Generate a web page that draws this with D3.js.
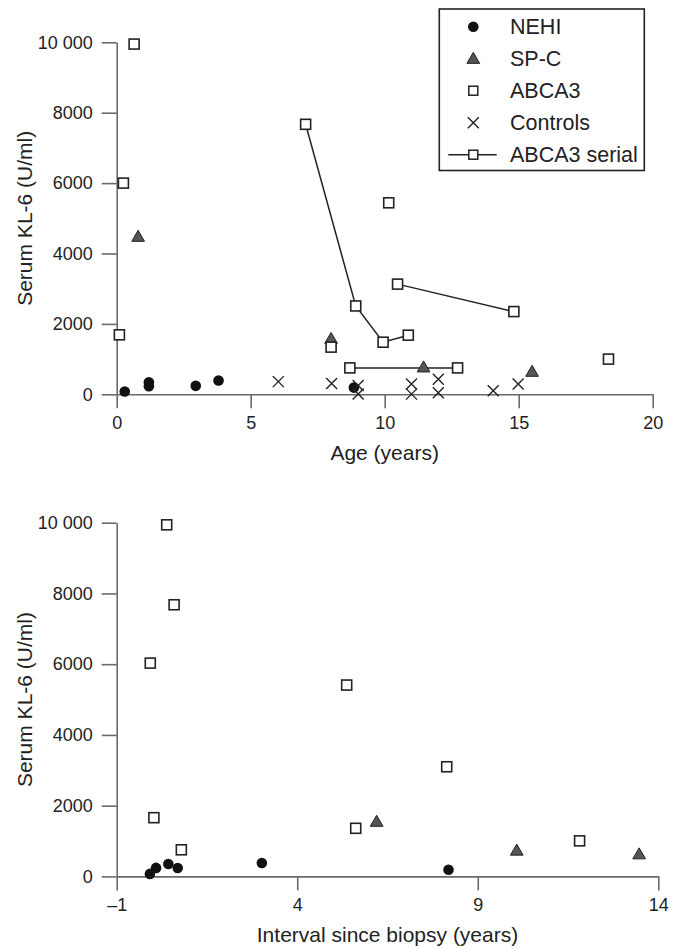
<!DOCTYPE html>
<html>
<head>
<meta charset="utf-8">
<script src="https://cdn.jsdelivr.net/npm/d3@7/dist/d3.min.js"></script>
<style>
  html, body { margin: 0; padding: 0; background: #fff; }
  svg { display: block; }
  text { font-family: "Liberation Sans", Arial, sans-serif; fill: #222; }
</style>
</head>
<body>
<svg id="chart" width="676" height="949"></svg>
<script>
// ---------- DATA ----------
// Top panel: KL-6 vs age (years)
const ageNEHI = [[0.3, 80], [1.2, 340], [1.2, 230], [2.95, 240], [3.8, 390], [8.85, 190]];
const ageSPC = [[0.8, 4450], [8.0, 1550], [11.45, 740], [15.5, 615]];
const ageABCA3 = [[0.65, 9950], [0.25, 6000], [0.1, 1690], [8.0, 1340], [10.15, 5440], [18.35, 1000]];
const ageControls = [[6.03, 360], [8.02, 310], [9.01, 250], [9.01, 10], [11.0, 290], [11.0, 5], [12.0, 425], [12.0, 45], [14.05, 100], [14.98, 290]];
const ageSerial1 = [[7.05, 7670], [8.92, 2510], [9.94, 1480], [10.88, 1680]];
const ageSerial2 = [[10.48, 3130], [14.82, 2350]];
const ageSerial3 = [[8.7, 750], [12.72, 750]];

// Bottom panel: KL-6 vs interval since biopsy (years)
const intNEHI = [[-0.08, 70], [0.09, 240], [0.43, 350], [0.69, 236], [3.02, 380], [8.19, 190]];
const intSPC = [[6.2, 1520], [10.08, 705], [13.47, 600]];
const intABCA3 = [[0.385, 9940], [0.59, 7680], [-0.07, 6030], [5.37, 5410], [8.14, 3100], [0.03, 1660], [0.79, 752], [5.62, 1360], [11.82, 1005]];

// Axes
const yTicks = [0, 2000, 4000, 6000, 8000, 10000];
const yTickLabels = ["0", "2000", "4000", "6000", "8000", "10 000"];
const ageTicks = [0, 5, 10, 15, 20];
const intTicks = [-1, 4, 9, 14];
const intTickLabels = ["\u20131", "4", "9", "14"];

const legendLabels = ["NEHI", "SP-C", "ABCA3", "Controls", "ABCA3 serial"];
const yTitle = "Serum KL-6 (U/ml)";
const ageTitle = "Age (years)";
const intTitle = "Interval since biopsy (years)";

// ---------- DRAWING ----------
const svg = d3.select("#chart");
const AXIS_COLOR = "#6a6a6a";
const INK = "#222";

const circleSym = d3.symbol().type(d3.symbolCircle).size(Math.PI * 5.3 * 5.3);
const triSym = d3.symbol().type(d3.symbolTriangle).size(70);

function drawMarkers(g, x, y, nehi, spc, abca3, controls) {
  g.selectAll(".nehi").data(nehi).join("path").attr("class", "nehi")
    .attr("d", circleSym).attr("transform", d => `translate(${x(d[0])},${y(d[1])})`)
    .attr("fill", "#111");
  g.selectAll(".spc").data(spc).join("path").attr("class", "spc")
    .attr("d", triSym).attr("transform", d => `translate(${x(d[0])},${y(d[1])})`)
    .attr("fill", "#555").attr("stroke", INK).attr("stroke-width", 1);
  g.selectAll(".abca3").data(abca3).join("rect").attr("class", "abca3")
    .attr("x", d => x(d[0]) - 5).attr("y", d => y(d[1]) - 5)
    .attr("width", 10).attr("height", 10)
    .attr("fill", "#fff").attr("stroke", INK).attr("stroke-width", 1.6);
  const cg = g.selectAll(".ctrl").data(controls).join("path").attr("class", "ctrl")
    .attr("d", d => {
      const cx = x(d[0]), cy = y(d[1]), h = 5.5;
      return `M${cx - h},${cy - h}L${cx + h},${cy + h}M${cx - h},${cy + h}L${cx + h},${cy - h}`;
    })
    .attr("stroke", INK).attr("stroke-width", 1.4).attr("fill", "none");
}

function styleAxis(g) {
  g.selectAll(".domain").attr("stroke", AXIS_COLOR).attr("stroke-width", 1.6);
  g.selectAll(".tick line").attr("stroke", AXIS_COLOR).attr("stroke-width", 1.6);
  g.selectAll(".tick text").attr("fill", INK)
    .style("font-family", '"Liberation Sans", Arial, sans-serif').style("font-size", "18px");
}

function drawPanel(opts) {
  const { xDomain, xRange, yRange, xTicks, xLabels, xTitle, serial, nehi, spc, abca3, controls } = opts;
  const x = d3.scaleLinear().domain(xDomain).range(xRange);
  const y = d3.scaleLinear().domain([0, 10000]).range(yRange);
  const g = svg.append("g");

  const yAxis = g.append("g").attr("transform", `translate(${xRange[0]},0)`)
    .call(d3.axisLeft(y).tickValues(yTicks).tickFormat((d, i) => yTickLabels[i])
      .tickSize(15).tickSizeOuter(0).tickPadding(9));
  styleAxis(yAxis);

  const xAxis = g.append("g").attr("transform", `translate(0,${yRange[0]})`)
    .call(d3.axisBottom(x).tickValues(xTicks).tickFormat((d, i) => xLabels ? xLabels[i] : d)
      .tickSize(14).tickSizeOuter(0).tickPadding(8));
  styleAxis(xAxis);

  // axis titles
  g.append("text")
    .attr("transform", `translate(32,${(yRange[0] + yRange[1]) / 2}) rotate(-90)`)
    .attr("text-anchor", "middle").style("font-size", "21px").text(yTitle);
  g.append("text")
    .attr("x", (xRange[0] + xRange[1]) / 2).attr("y", yRange[0] + 66)
    .attr("text-anchor", "middle").style("font-size", "21px").text(xTitle);

  // serial lines
  const line = d3.line().x(d => x(d[0])).y(d => y(d[1]));
  (serial || []).forEach(s => {
    g.append("path").datum(s).attr("d", line)
      .attr("fill", "none").attr("stroke", INK).attr("stroke-width", 1.5);
  });
  const serialPts = (serial || []).flat();
  const markerG = g.append("g");
  drawMarkers(markerG, x, y, nehi, spc, abca3.concat(serialPts), controls || []);
  return { x, y };
}

drawPanel({
  xDomain: [0, 20], xRange: [116.7, 652.7], yRange: [394.3, 42.3],
  xTicks: ageTicks, xLabels: null, xTitle: ageTitle,
  serial: [ageSerial1, ageSerial2, ageSerial3],
  nehi: ageNEHI, spc: ageSPC, abca3: ageABCA3, controls: ageControls
});

drawPanel({
  xDomain: [-1, 14], xRange: [116.7, 658.3], yRange: [876.4, 522.7],
  xTicks: intTicks, xLabels: intTickLabels, xTitle: intTitle,
  serial: [], nehi: intNEHI, spc: intSPC, abca3: intABCA3, controls: []
});

// ---------- LEGEND ----------
const leg = svg.append("g");
leg.append("rect").attr("x", 439.3).attr("y", 9).attr("width", 205).attr("height", 161.5)
  .attr("fill", "#fff").attr("stroke", INK).attr("stroke-width", 1.6);
const rowY = i => 26.7 + i * 32;
const sx = 473.3;
legendLabels.forEach((lab, i) => {
  const cy = rowY(i);
  if (i === 0) {
    leg.append("path").attr("d", circleSym).attr("transform", `translate(${sx},${cy})`).attr("fill", "#111");
  } else if (i === 1) {
    leg.append("path").attr("d", triSym).attr("transform", `translate(${sx},${cy + 1})`)
      .attr("fill", "#555").attr("stroke", INK).attr("stroke-width", 1);
  } else if (i === 2) {
    leg.append("rect").attr("x", sx - 4.5).attr("y", cy - 4.5).attr("width", 9).attr("height", 9)
      .attr("fill", "#fff").attr("stroke", INK).attr("stroke-width", 1.5);
  } else if (i === 3) {
    const h = 5.5;
    leg.append("path").attr("d", `M${sx - h},${cy - h}L${sx + h},${cy + h}M${sx - h},${cy + h}L${sx + h},${cy - h}`)
      .attr("stroke", INK).attr("stroke-width", 1.4);
  } else {
    leg.append("line").attr("x1", 448.3).attr("x2", 496.7).attr("y1", cy).attr("y2", cy)
      .attr("stroke", INK).attr("stroke-width", 1.5);
    leg.append("rect").attr("x", sx - 4.5).attr("y", cy - 4.5).attr("width", 9).attr("height", 9)
      .attr("fill", "#fff").attr("stroke", INK).attr("stroke-width", 1.5);
  }
  leg.append("text").attr("x", 510).attr("y", cy).attr("dy", "0.36em")
    .style("font-size", "21.5px").text(lab);
});
</script>
</body>
</html>
